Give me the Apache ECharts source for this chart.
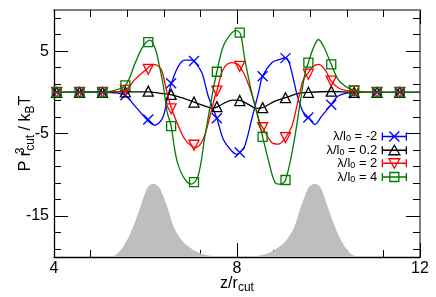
<!DOCTYPE html>
<html><head><meta charset="utf-8">
<script src="https://cdn.jsdelivr.net/npm/echarts@6/dist/echarts.min.js"></script>
<style>html,body{margin:0;padding:0;background:#fff}#c{width:436px;height:297px}</style>
</head><body><div id="c"></div>
<script>
// ---- data ----
const markerX = [4.06,4.56,5.06,5.56,6.06,6.56,7.06,7.56,8.06,8.56,9.06,9.56,10.06,10.56,11.06,11.56];
const blueMarks  = [0,0,0,-0.35,-3.3,1.1,3.8,-3.15,-7.3,1.95,4.15,-3.05,-1.5,-0.13,0,0];
const blackMarks = [0,0,0,0.05,0.15,-0.25,-1.18,-1.74,-1.0,-1.86,-0.65,0,0.15,0,0,0];
const redMarks   = [0,0,0,0.25,2.8,-2.0,-6.43,0.15,3.15,-4.3,-5.5,2.2,1.36,0.15,0,0];
const greenMarks = [0,0,0,0.85,6.1,-4.1,-10.9,2.5,7.25,-5.4,-10.65,3.6,3.4,0.25,0,0];

const blueCurve = [[4,0],[5,0],[5.3,-0.05],[5.55,-0.36],[5.77,-1.67],[5.99,-3.07],[6.1,-3.7],[6.2,-4.0],[6.3,-3.7],[6.39,-2.9],[6.48,-0.7],[6.57,1.15],[6.72,3.18],[6.86,3.9],[7.0,3.9],[7.06,3.8],[7.23,2.4],[7.37,-0.45],[7.56,-3.16],[7.7,-5.7],[7.88,-7.1],[7.99,-7.5],[8.06,-7.35],[8.17,-6.5],[8.32,-3.3],[8.47,-0.04],[8.56,1.97],[8.76,3.6],[8.94,4.0],[9.06,4.2],[9.12,3.9],[9.2,2.4],[9.34,-0.85],[9.49,-2.9],[9.56,-3.07],[9.7,-3.9],[9.85,-2.9],[10.06,-1.46],[10.21,-0.45],[10.4,-0.1],[10.6,0],[12,0]];
const blackCurve = [[4,0],[5.5,0.05],[6.06,0.05],[6.3,-0.1],[6.57,-0.3],[6.79,-0.65],[7.06,-1.18],[7.26,-1.58],[7.45,-1.9],[7.56,-1.8],[7.74,-1.25],[7.9,-0.95],[8.06,-0.98],[8.25,-1.46],[8.43,-1.95],[8.56,-1.86],[8.83,-1.06],[9.06,-0.65],[9.34,-0.13],[9.56,0],[10.06,0.1],[10.5,0.02],[12,0]];
const redCurve = [[4,0],[5,0],[5.25,0.05],[5.56,0.28],[5.77,1.57],[6.04,2.9],[6.17,3.4],[6.28,3.2],[6.36,2.6],[6.46,0.2],[6.57,-2.0],[6.72,-4.1],[6.86,-5.7],[7.0,-6.5],[7.1,-6.7],[7.26,-5.7],[7.41,-2.9],[7.52,-0.45],[7.56,0.15],[7.7,2.8],[7.88,3.6],[8.02,3.4],[8.1,2.8],[8.21,1.57],[8.36,-0.85],[8.5,-3.7],[8.56,-4.28],[8.76,-6.1],[8.9,-6.3],[9.06,-5.5],[9.2,-4.1],[9.34,-0.85],[9.45,1.57],[9.56,2.4],[9.67,3.18],[9.78,3.39],[9.92,2.78],[10.06,1.36],[10.21,0.56],[10.4,0.2],[10.75,0],[12,0]];
const greenCurve = [[4,0],[5,0],[5.25,0.15],[5.56,0.85],[5.77,3.5],[5.95,5.6],[6.1,6.33],[6.22,5.2],[6.3,3.3],[6.39,0.8],[6.47,-2.3],[6.56,-4.1],[6.64,-7.0],[6.72,-8.9],[6.86,-10.55],[7.0,-11.15],[7.15,-10.15],[7.3,-5.3],[7.45,-0.55],[7.56,2.5],[7.7,5.6],[7.88,7.2],[7.99,7.5],[8.08,7.0],[8.17,4.0],[8.32,0],[8.47,-3.3],[8.56,-5.4],[8.68,-8.1],[8.83,-10.95],[8.94,-11.15],[9.06,-10.65],[9.23,-6.5],[9.38,-1.25],[9.49,2.4],[9.56,3.6],[9.67,5.4],[9.78,6.42],[9.89,5.6],[10.06,3.4],[10.21,1.57],[10.36,0.76],[10.5,0.36],[10.75,0.05],[11,0],[12,0]];

const densityX = [4,5.2,5.38,5.53,5.68,5.82,5.97,6.05,6.17,6.28,6.33,6.48,6.62,6.77,6.91,7.13,7.35,7.6,8.27,8.52,8.74,8.96,9.1,9.25,9.39,9.54,9.59,9.7,9.82,9.9,10.05,10.19,10.34,10.49,10.67,12];
const densityY = [-20,-20,-19.6,-18.6,-17,-15,-12.6,-11.5,-11.1,-11.4,-11.8,-14,-16.4,-17.8,-18.6,-19.4,-19.8,-20,-20,-19.8,-19.4,-18.6,-17.8,-16.4,-14,-11.8,-11.4,-11.1,-11.5,-12.6,-15,-17,-18.6,-19.6,-20,-20];

const xTickLabels = [4, 8, 12];
const yTickLabels = [-15, -5, 5];
const yMinorTicks = [-19,-17,-13,-11,-9,-7,-3,-1,1,3,7,9];
const lambdaLabels = ['-2', '0.2', '2', '4'];

// ---- styling ----
const FONT = "'Liberation Sans', Arial, Helvetica, sans-serif";
const colors = ['#0000ff', '#000000', '#ff0000', '#007a00'];
const names = lambdaLabels.map(v => 'λ/l0 = ' + v);
const curves = [blueCurve, blackCurve, redCurve, greenCurve];
const marks = [blueMarks, blackMarks, redMarks, greenMarks];
const symbols = ['path://M0,0L10,10M10,0L0,10', 'triangle', 'triangle', 'rect'];
const symRot = [0, 0, 180, 0];
const symSize = [10, 10, 10, 9];
const caps = 'M0,5L24,5M0,1L0,9M24,1L24,9';
const icons = [
  'path://' + caps + 'M7,0L17,10M17,0L7,10',
  'path://' + caps + 'M12,0L17.5,9.5L6.5,9.5Z',
  'path://' + caps + 'M6.5,0.5L17.5,0.5L12,10Z',
  'path://' + caps + 'M7.5,0.5L16.5,0.5L16.5,9.5L7.5,9.5Z'
];

const frameDark = {color:'#000', width:1.3};
const frameLight = {color:'#808080', width:2};
const tickStyle = {color:'#000', width:1};

const series = [{
  type:'line', name:'density', silent:true, symbol:'none', smooth:0.3,
  data: densityX.map((x,i)=>[x, densityY[i]]),
  lineStyle:{width:0}, areaStyle:{color:'#bebebe', opacity:1, origin:'start'}, z:1
}];
for (let i=0;i<4;i++){
  series.push({
    type:'line', name:names[i], symbol:'none', smooth:0.35, data:curves[i],
    lineStyle:{color:colors[i], width:1.3}, itemStyle:{color:colors[i]}, z:2+i
  });
  series.push({
    type:'scatter', name:names[i]+' pts', symbol:symbols[i], symbolRotate:symRot[i], symbolSize:symSize[i],
    data: markerX.map((x,k)=>[x, marks[i][k]]),
    itemStyle:{color:'rgba(0,0,0,0)', borderColor:colors[i], borderWidth:1.3, opacity:1}, z:2+i
  });
}

const chart = echarts.init(document.getElementById('c'), null, {renderer:'canvas'});
chart.setOption({
  animation:false,
  backgroundColor:'#fff',
  grid:{left:54, right:16, top:10, bottom:40, containLabel:false, outerBoundsMode:'none'},
  xAxis:[
    {type:'value', min:xTickLabels[0], max:xTickLabels[2], interval:xTickLabels[1]-xTickLabels[0], position:'bottom',
     axisLine:{show:true, onZero:false, lineStyle:frameDark},
     axisTick:{show:true, inside:true, length:14, lineStyle:tickStyle},
     minorTick:{show:true, splitNumber:5, length:7, lineStyle:tickStyle},
     axisLabel:{fontSize:16, color:'#000', margin:4, fontFamily:FONT},
     splitLine:{show:false}, minorSplitLine:{show:false},
     name:'{m|z/r}{sub|cut}', nameLocation:'middle', nameGap:17, nameMoveOverlap:false,
     nameTextStyle:{rich:{m:{fontSize:16, fontFamily:FONT, color:'#000', lineHeight:20},
                          sub:{fontSize:12, fontFamily:FONT, color:'#000', lineHeight:12, verticalAlign:'bottom'}}}},
    {type:'value', min:xTickLabels[0], max:xTickLabels[2], interval:xTickLabels[1]-xTickLabels[0], position:'top',
     axisLine:{show:true, onZero:false, lineStyle:frameLight},
     axisTick:{show:true, inside:true, length:14, lineStyle:tickStyle},
     minorTick:{show:true, splitNumber:5, length:7, lineStyle:tickStyle},
     axisLabel:{show:false}, splitLine:{show:false}}
  ],
  yAxis:[
    {type:'value', min:-20, max:10, position:'left',
     axisLine:{show:true, onZero:false, lineStyle:frameDark},
     axisTick:{show:true, inside:true, length:14, lineStyle:tickStyle, customValues:yTickLabels},
     axisLabel:{fontSize:16, color:'#000', margin:5, fontFamily:FONT, customValues:yTickLabels},
     splitLine:{show:false},
     name:'{m|P r}{sup|3}{sub|cut}{m| / k}{sub|B}{m|T}', nameLocation:'middle', nameRotate:90, nameGap:17, nameMoveOverlap:false,
     nameTextStyle:{rich:{m:{fontSize:16, fontFamily:FONT, color:'#000', lineHeight:22},
                          sup:{fontSize:12, fontFamily:FONT, color:'#000', lineHeight:12, verticalAlign:'top', width:0},
                          sub:{fontSize:12, fontFamily:FONT, color:'#000', lineHeight:12, verticalAlign:'bottom'}}}},
    {type:'value', min:-20, max:10, position:'left',
     axisLine:{show:false}, axisLabel:{show:false}, splitLine:{show:false},
     axisTick:{show:true, inside:true, length:7, lineStyle:tickStyle, customValues:yMinorTicks}},
    {type:'value', min:-20, max:10, position:'right',
     axisLine:{show:true, onZero:false, lineStyle:frameLight}, axisLabel:{show:false}, splitLine:{show:false},
     axisTick:{show:true, inside:true, length:14, lineStyle:tickStyle, customValues:yTickLabels}},
    {type:'value', min:-20, max:10, position:'right',
     axisLine:{show:false}, axisLabel:{show:false}, splitLine:{show:false},
     axisTick:{show:true, inside:true, length:7, lineStyle:tickStyle, customValues:yMinorTicks}}
  ],
  legend:{
    orient:'vertical', right:29, top:130, align:'right', itemWidth:24, itemHeight:10, itemGap:0, padding:0,
    selectedMode:false,
    data: names.map((n,i)=>({name:n, icon:icons[i],
      itemStyle:{color:'rgba(0,0,0,0)', borderColor:colors[i], borderWidth:1.3}})),
    formatter: function(name){ const v = name.split('= ')[1]; return '{a|λ/l}{s|0}{a| = ' + v + '}'; },
    textStyle:{rich:{a:{fontSize:13, fontFamily:FONT, color:'#000', lineHeight:14},
                     s:{fontSize:9, fontFamily:FONT, color:'#000', lineHeight:9, verticalAlign:'bottom'}}}
  },
  series: series
});
</script></body></html>
